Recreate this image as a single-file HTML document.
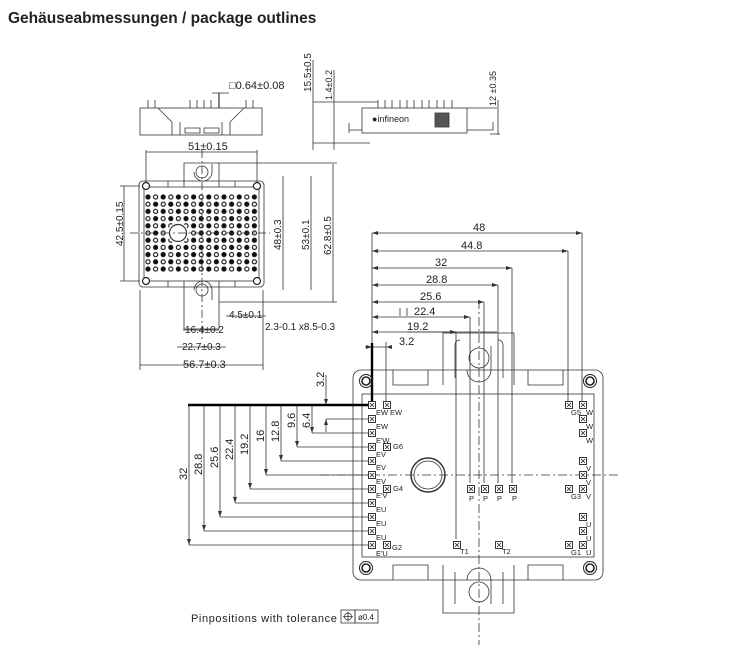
<!DOCTYPE html>
<html><head><meta charset="utf-8"><style>
body{margin:0;background:#fff;width:747px;height:649px;overflow:hidden}
svg{position:absolute;left:0;top:0}
text{font-family:"Liberation Sans",sans-serif;fill:#222}
</style></head><body>
<svg width="747" height="649" viewBox="0 0 747 649" xmlns="http://www.w3.org/2000/svg">
<defs>
<g id="pin"><rect x="-3.5" y="-3.5" width="7" height="7" fill="#fff" stroke="#222" stroke-width="0.9"/><path d="M-2,-2L2,2M2,-2L-2,2" stroke="#222" stroke-width="0.8"/></g>
<g id="hole"><circle r="6.5" fill="none" stroke="#222" stroke-width="1"/><circle r="4" fill="none" stroke="#222" stroke-width="1.6"/></g>
<pattern id="dp" x="144.2" y="193.4" width="7.6" height="7.2" patternUnits="userSpaceOnUse">
<circle cx="3.8" cy="3.6" r="2.6" fill="#111"/>
</pattern>
<pattern id="hp" x="144.2" y="193.4" width="15.2" height="14.4" patternUnits="userSpaceOnUse">
<circle cx="11.4" cy="3.6" r="1.5" fill="#fff"/><circle cx="3.8" cy="10.8" r="1.5" fill="#fff"/>
</pattern>
</defs>
<text x="8" y="23" font-size="15.5" font-weight="bold" fill="#000">Gehäuseabmessungen / package outlines</text>

<g stroke="#333" stroke-width="0.8" fill="none">
<rect x="140" y="108" width="122" height="27"/>
<path d="M158,108L172,122V135M244,108L230,122V135M180,135V122M222,135V122M185,133h15v-5h-15zM204,133h15v-5h-15z"/>
<path d="M148,100v8M155,100v8M190,100v8M197,100v8M204,100v8M211,100v8M246,100v8M253,100v8"/>
<path d="M219,93v15" stroke-width="1.2"/><path d="M212,93h17"/>
<rect x="362" y="108" width="105" height="25"/>
<path d="M313,102h65M313,143h57M349,133v-10M349,130h13M467,130h26v-8M467,108h30"/>
<path d="M378,100v8M385,100v8M392,100v8M400,100v8M407,100v8M414,100v8M422,100v8M429,100v8M437,100v8M444,100v8M452,100v8"/>
<path d="M313,60v90M334,70v80M498,100v35M490,134h10"/>
<rect x="435" y="113" width="14" height="14" fill="#555"/>
<rect x="139" y="181" width="125" height="106" rx="4"/>
<rect x="144" y="187" width="115" height="94"/>
<path d="M184,187V163h35v24M184,281v48h35v-48M168,187v-6M235,187v-6M168,281v6M235,281v6"/>
<path d="M194,172a9,9 0 0 0 18,0v-8M194,290a9,9 0 0 1 18,0v10"/>
<circle cx="202" cy="172" r="6"/><circle cx="202" cy="290" r="6"/>
<path d="M146,152h111M146,150v40M257,150v40M124,186v95M120,186h20M120,281h20M283,176v114M311,176v114M333,164v138M219,163h118M219,302h118M140,365h123M140,290v80M263,290v80M177,347h49M183,330h36M226,316h38M400,308v8M407,308v8M407,332h90M264,316h2"/>
</g>
<rect x="144.2" y="193.4" width="114" height="79.2" fill="url(#dp)"/>
<rect x="144.2" y="193.4" width="114" height="79.2" fill="url(#hp)"/>
<circle cx="178" cy="233" r="10.5" fill="#fff"/>
<circle cx="178" cy="233" r="8.5" fill="none" stroke="#333" stroke-width="1.2"/>
<path d="M202,150v190M130,233h140" stroke="#333" stroke-width="0.8" stroke-dasharray="8,3,2,3"/>
<g fill="#fff" stroke="#222" stroke-width="1.2">
<circle cx="146" cy="186" r="3.5"/><circle cx="257" cy="186" r="3.5"/><circle cx="146" cy="281" r="3.5"/><circle cx="257" cy="281" r="3.5"/>
</g>
<text x="188" y="150" font-size="11">51±0.15</text>
<text x="229" y="89" font-size="11">□0.64±0.08</text>
<text x="185" y="333" font-size="10">16.4±0.2</text>
<text x="182" y="350" font-size="10">22.7±0.3</text>
<text x="183" y="368" font-size="11">56.7±0.3</text>
<text x="229" y="318" font-size="10">4.5±0.1</text>
<text x="265" y="330" font-size="10">2.3-0.1 x8.5-0.3</text>
<text transform="translate(123,246)rotate(-90)" font-size="10">42.5±0.15</text>
<text transform="translate(281,250)rotate(-90)" font-size="10">48±0.3</text>
<text transform="translate(309,250)rotate(-90)" font-size="10">53±0.1</text>
<text transform="translate(331,255)rotate(-90)" font-size="10">62.8±0.5</text>
<text transform="translate(311,92)rotate(-90)" font-size="10">15.5±0.5</text>
<text transform="translate(332,100)rotate(-90)" font-size="9">1.4±0.2</text>
<text transform="translate(496,106)rotate(-90)" font-size="9">12 ±0.35</text>
<text x="372" y="122" font-size="9" fill="#225">●infineon</text>

<g stroke="#333" stroke-width="0.8" fill="none">
<rect x="353" y="370" width="250" height="210" rx="8"/>
<rect x="362" y="394" width="232" height="163"/>
<path d="M443,385V333h71v52M443,565v48h71v-48"/>
<path d="M393,370v15h35v-15M528,370v15h35v-15M393,580v-15h35v15M528,580v-15h35v15"/>
<path d="M455,378V346q0,-6 5,-6M503,378V346q0,-6 -5,-6M455,572v32M503,572v32"/>
<path d="M467,370a12,12 0 0 0 24,0V346M467,580a12,12 0 0 1 24,0v24"/>
<circle cx="479" cy="358" r="10"/><circle cx="479" cy="592" r="10"/>
<circle cx="428" cy="475" r="17" stroke-width="1.5"/><circle cx="428" cy="475" r="14"/>
<path d="M479,300V645M320,475H620" stroke-dasharray="9,3,2,3"/>
<path d="M372,233h210M372,251h196M372,268h140M372,285h126M372,302h112M372,317h98M372,332h84M372,347h14M582,233v172M568,251v154M512,268v215M498,285v198M484,302v181M470,317v166M456,332v207M386,342v63M372,233v110"/>
<path d="M365,347h7"/>
<path d="M189,545h183M204,531h168M220,517h152M235,503h137M250,489h122M266,475h106M281,461h91M297,447h75M312,433h60M326,419h46"/>
<path d="M189,405v140M204,405v126M220,405v112M235,405v98M250,405v84M266,405v70M281,405v56M297,405v42M312,405v28M326,375v30M326,419v13"/>
</g>
<path d="M372,343V405H188" stroke="#000" stroke-width="2.4" fill="none"/>
<g fill="#333">
<path d="M189,545l-2,-6h4zM204,531l-2,-6h4zM220,517l-2,-6h4zM235,503l-2,-6h4zM250,489l-2,-6h4zM266,475l-2,-6h4zM281,461l-2,-6h4zM297,447l-2,-6h4zM312,433l-2,-6h4zM326,405l-2,-6h4zM326,419l-2,6h4z"/>
<path d="M582,233l-6,-2v4zM568,251l-6,-2v4zM512,268l-6,-2v4zM498,285l-6,-2v4zM484,302l-6,-2v4zM470,317l-6,-2v4zM456,332l-6,-2v4zM386,347l6,-2v4zM372,347l-6,-2v4z"/>
<path d="M372,233l6,-2v4zM372,251l6,-2v4zM372,268l6,-2v4zM372,285l6,-2v4zM372,302l6,-2v4zM372,317l6,-2v4zM372,332l6,-2v4z"/>
</g>
<g>
<use href="#hole" x="366" y="381"/><use href="#hole" x="590" y="381"/><use href="#hole" x="366" y="568"/><use href="#hole" x="590" y="568"/>
</g>
<g>
<use href="#pin" x="372" y="405"/><use href="#pin" x="372" y="419"/><use href="#pin" x="372" y="433"/><use href="#pin" x="372" y="447"/><use href="#pin" x="372" y="461"/><use href="#pin" x="372" y="475"/><use href="#pin" x="372" y="489"/><use href="#pin" x="372" y="503"/><use href="#pin" x="372" y="517"/><use href="#pin" x="372" y="531"/><use href="#pin" x="372" y="545"/>
<use href="#pin" x="387" y="405"/><use href="#pin" x="387" y="447"/><use href="#pin" x="387" y="489"/><use href="#pin" x="387" y="545"/>
<use href="#pin" x="583" y="405"/><use href="#pin" x="583" y="419"/><use href="#pin" x="583" y="433"/><use href="#pin" x="583" y="461"/><use href="#pin" x="583" y="475"/><use href="#pin" x="583" y="489"/><use href="#pin" x="583" y="517"/><use href="#pin" x="583" y="531"/><use href="#pin" x="583" y="545"/>
<use href="#pin" x="569" y="405"/><use href="#pin" x="569" y="489"/><use href="#pin" x="569" y="545"/>
<use href="#pin" x="471" y="489"/><use href="#pin" x="485" y="489"/><use href="#pin" x="499" y="489"/><use href="#pin" x="513" y="489"/>
<use href="#pin" x="457" y="545"/><use href="#pin" x="499" y="545"/>
</g>
<g font-size="7.5">
<text x="376" y="415">EW</text><text x="390" y="415">EW</text><text x="376" y="429">EW</text><text x="376" y="443">E'W</text><text x="393" y="449">G6</text>
<text x="376" y="457">EV</text><text x="376" y="470">EV</text><text x="376" y="484">EV</text><text x="376" y="498">E'V</text><text x="393" y="491">G4</text>
<text x="376" y="512">EU</text><text x="376" y="526">EU</text><text x="376" y="540">EU</text><text x="376" y="556">E'U</text><text x="392" y="550">G2</text>
<text x="571" y="415">G5</text><text x="586" y="415">W</text><text x="586" y="429">W</text><text x="586" y="443">W</text>
<text x="586" y="471">V</text><text x="586" y="485">V</text><text x="571" y="499">G3</text><text x="586" y="499">V</text>
<text x="586" y="527">U</text><text x="586" y="541">U</text><text x="571" y="555">G1</text><text x="586" y="555">U</text>
<text x="469" y="501">P</text><text x="483" y="501">P</text><text x="497" y="501">P</text><text x="512" y="501">P</text>
<text x="460" y="554">T1</text><text x="502" y="554">T2</text>
</g>
<g font-size="11">
<text x="473" y="231">48</text><text x="461" y="249">44.8</text><text x="435" y="266">32</text><text x="426" y="283">28.8</text><text x="420" y="300">25.6</text><text x="414" y="315">22.4</text><text x="407" y="330">19.2</text><text x="399" y="345">3.2</text>
<text transform="translate(187,480)rotate(-90)">32</text>
<text transform="translate(202,475)rotate(-90)">28.8</text>
<text transform="translate(218,468)rotate(-90)">25.6</text>
<text transform="translate(233,460)rotate(-90)">22.4</text>
<text transform="translate(248,455)rotate(-90)">19.2</text>
<text transform="translate(264,442)rotate(-90)">16</text>
<text transform="translate(279,442)rotate(-90)">12.8</text>
<text transform="translate(295,428)rotate(-90)">9.6</text>
<text transform="translate(310,428)rotate(-90)">6.4</text>
<text transform="translate(324,387)rotate(-90)">3.2</text>
</g>
<text x="191" y="622" font-size="11" letter-spacing="0.6">Pinpositions with tolerance</text>
<rect x="341" y="610" width="14" height="13" fill="none" stroke="#333" stroke-width="0.8"/>
<rect x="355" y="610" width="23" height="13" fill="none" stroke="#333" stroke-width="0.8"/>
<circle cx="348" cy="616.5" r="3.5" fill="none" stroke="#333" stroke-width="0.8"/><path d="M343,616.5h10M348,611.5v10" stroke="#333" stroke-width="0.8"/>
<text x="358" y="620" font-size="8">ø0.4</text>
</svg>
</body></html>
